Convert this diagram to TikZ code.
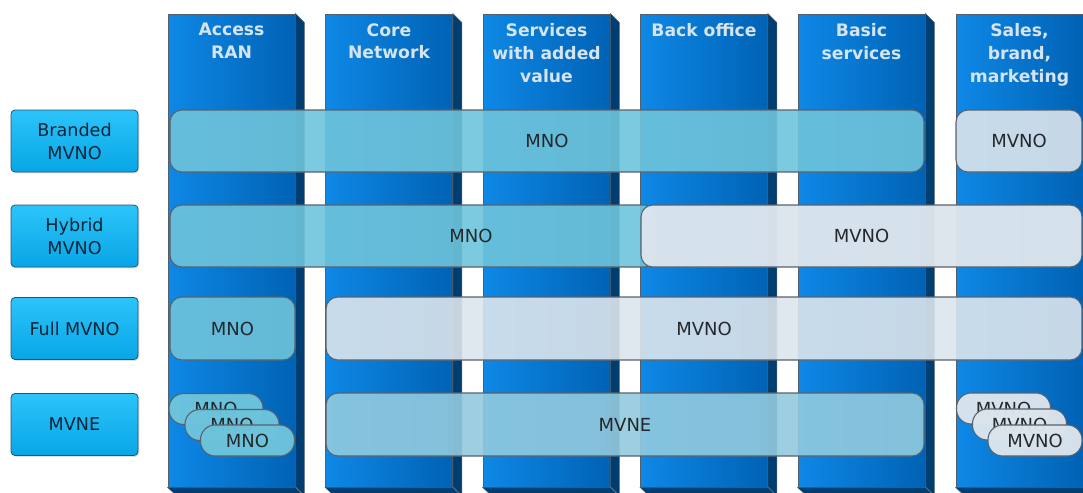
\documentclass[tikz,border=0pt]{standalone}
\usepackage{fontspec}
\setmainfont{DejaVu Sans}
\usetikzlibrary{shadows}
\newcommand\pxu{0.75pt}
\definecolor{colL}{RGB}{14,136,230}
\definecolor{colR}{RGB}{0,98,180}
\definecolor{colSide}{RGB}{0,62,114}
\definecolor{colEdge}{RGB}{80,96,112}
\definecolor{hdrText}{RGB}{214,228,240}
\definecolor{lblTop}{RGB}{44,196,250}
\definecolor{lblBot}{RGB}{8,166,230}
\definecolor{lblEdge}{RGB}{34,84,112}
\definecolor{mnoFill}{RGB}{110,196,219}
\definecolor{mvneFill}{RGB}{146,202,222}
\definecolor{mvnoFill}{RGB}{220,229,236}
\definecolor{bandEdge}{RGB}{88,98,108}
\definecolor{bandText}{RGB}{36,40,44}
\definecolor{lblText}{RGB}{10,36,56}
\begin{document}
\begin{tikzpicture}[x=0.75pt,y=-0.75pt,
  colfront/.style={draw=colEdge, line width=0.6pt, left color=colL, right color=colR,
    inner sep=0pt, minimum width=127*\pxu, minimum height=473*\pxu},
  colside/.style={fill=colSide, draw=colEdge, line width=0.4pt},
  hdr/.style={font=\bfseries\fontsize{12.9}{17.2}\selectfont, text=hdrText, align=center,
    anchor=north, inner sep=0pt},
  rowlbl/.style={draw=lblEdge, line width=0.6pt, rounded corners=3pt, top color=lblTop,
    bottom color=lblBot, minimum width=127*\pxu, minimum height=62*\pxu, align=center,
    font=\fontsize{13.2}{17.2}\selectfont, text=lblText, inner sep=0pt,
    drop shadow={opacity=0.25, shadow xshift=1pt, shadow yshift=-1pt}},
  band/.style={draw=bandEdge, line width=0.8pt, rounded corners=9pt, fill opacity=0.9,
    text opacity=1, font=\fontsize{13.5}{16}\selectfont, text=bandText, inner sep=0pt,
    minimum height=62*\pxu},
  mnoband/.style={band, fill=mnoFill},
  mvneband/.style={band, fill=mvneFill},
  mvnoband/.style={band, fill=mvnoFill},
  pill/.style={draw=bandEdge, line width=0.8pt, rounded corners=11pt, fill opacity=0.97,
    text opacity=1, font=\fontsize{13.5}{16}\selectfont, text=bandText, inner sep=0pt,
    minimum width=94*\pxu, minimum height=31*\pxu},
  mnopill/.style={pill, fill=mnoFill},
  mvnopill/.style={pill, fill=mvnoFill},
  bandtext/.style={font=\fontsize{13.5}{16}\selectfont, text=bandText, inner sep=0pt}
]
\useasboundingbox (0,0) rectangle (1083,493);
\clip (0,0) rectangle (1083,493);

% columns
\foreach \cx [count=\i] in {231.5,389,546.5,704,861.5,1019.5}{
  \node[colfront] (col\i) at (\cx,250.5) {};
  \fill[colside] (col\i.north east) -- ++(9,9) -- ++(0,473) -- ++(-9,-9) -- cycle;
  \fill[colside] (col\i.south west) -- (col\i.south east) -- ++(9,9) -- ++(-127,0) -- cycle;
}

% column headers
\node[hdr] (h1) at (231.5,23) {Access\\RAN};
\node[hdr] (h2) at (389,23) {Core\\Network};
\node[hdr] (h3) at (546.5,23) {Services\\with added\\value};
\node[hdr] (h4) at (704,23) {Back office};
\node[hdr] (h5) at (861.5,23) {Basic\\services};
\node[hdr] (h6) at (1019.5,23) {Sales,\\brand,\\marketing};

% row labels
\node[rowlbl] (r1) at (74.5,141) {Branded\\MVNO};
\node[rowlbl] (r2) at (74.5,236) {Hybrid\\MVNO};
\node[rowlbl] (r3) at (74.5,328.5) {Full MVNO};
\node[rowlbl] (r4) at (74.5,424.5) {MVNE};

% Branded MVNO row
\node[mnoband, minimum width=754*\pxu] (bmno) at (547,141) {MNO};
\node[mvnoband, minimum width=126*\pxu] (bmvno) at (1019,141) {MVNO};

% Hybrid MVNO row
\node[mnoband, minimum width=486*\pxu] (hmno) at (413,236) {};
\node[bandtext] (hmnot) at (471,236) {MNO};
\node[mvnoband, fill opacity=0.97, minimum width=441*\pxu] (hmvno) at (861.5,236) {MVNO};

% Full MVNO row
\node[mnoband, minimum width=125*\pxu, minimum height=63*\pxu] (fmno) at (232.5,328.5) {MNO};
\node[mvnoband, minimum width=756*\pxu, minimum height=63*\pxu] (fmvno) at (704,328.5) {MVNO};

% MVNE row
\node[mnopill] (p1) at (216,409) {MNO};
\node[mnopill] (p2) at (232,425) {MNO};
\node[mnopill] (p3) at (247.5,440.5) {MNO};
\node[mvneband, minimum width=598*\pxu, minimum height=63*\pxu] (mvne) at (625,424.5) {MVNE};
\node[mvnopill] (q1) at (1003.5,408.5) {MVNO};
\node[mvnopill] (q2) at (1019.5,424.5) {MVNO};
\node[mvnopill] (q3) at (1035,440.5) {MVNO};
\end{tikzpicture}
\end{document}
